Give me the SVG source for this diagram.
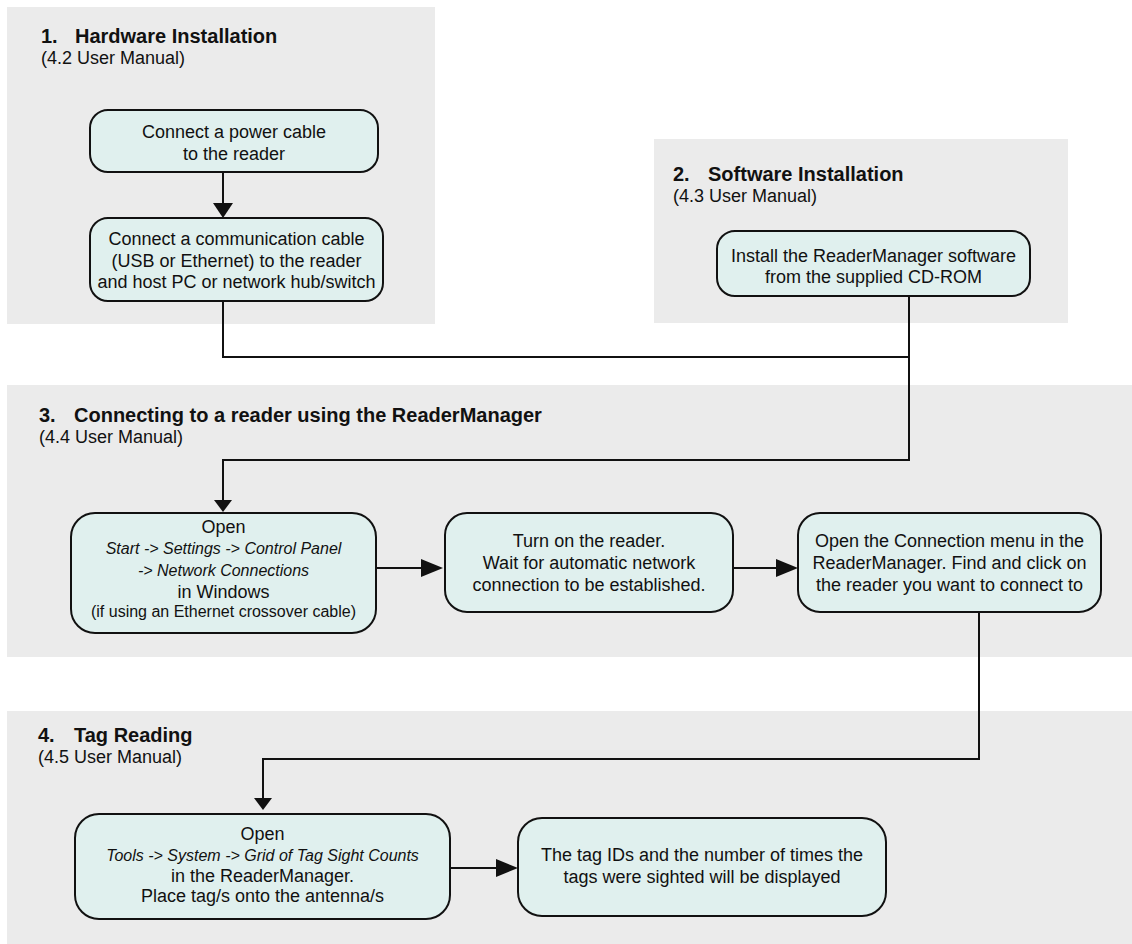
<svg xmlns="http://www.w3.org/2000/svg" width="1132" height="944" viewBox="0 0 1132 944">
  <style>
    .panel { fill: #EBEBEB; }
    .box { fill: #E0F0EE; stroke: #111; stroke-width: 2; }
    text { font-family: "Liberation Sans", Arial, Helvetica, sans-serif; fill: #111; }
    .t { font-size: 18px; text-anchor: middle; }
    .s { font-size: 16px; text-anchor: middle; }
    .i { font-size: 16px; font-style: italic; text-anchor: middle; }
    .h { font-size: 20px; font-weight: bold; }
    .sub { font-size: 18px; }
    .conn { fill: none; stroke: #111; stroke-width: 2; }
  </style>
  <defs>
    <marker id="ah" markerUnits="userSpaceOnUse" markerWidth="22" markerHeight="18" refX="0" refY="9" orient="auto" overflow="visible">
      <path d="M0,0 L22,9 L0,18 Z" fill="#111"/>
    </marker>
    <marker id="ad" markerUnits="userSpaceOnUse" markerWidth="15" markerHeight="20" refX="0" refY="10" orient="auto" overflow="visible">
      <path d="M0,0 L15,10 L0,20 Z" fill="#111"/>
    </marker>
    <marker id="as" markerUnits="userSpaceOnUse" markerWidth="12" markerHeight="18" refX="0" refY="9" orient="auto" overflow="visible">
      <path d="M0,0 L12,9 L0,18 Z" fill="#111"/>
    </marker>
  </defs>

  <!-- Panels -->
  <g id="panel1">
    <rect class="panel" x="7" y="7" width="428" height="317"/>
    <text class="h" x="41" y="43">1.</text>
    <text class="h" x="75" y="43">Hardware Installation</text>
    <text class="sub" x="41" y="64">(4.2 User Manual)</text>
  </g>
  <g id="panel2">
    <rect class="panel" x="654" y="139" width="414" height="184"/>
    <text class="h" x="673" y="181">2.</text>
    <text class="h" x="708" y="181">Software Installation</text>
    <text class="sub" x="673" y="202">(4.3 User Manual)</text>
  </g>
  <g id="panel3">
    <rect class="panel" x="7" y="385" width="1125" height="272"/>
    <text class="h" x="39" y="422">3.</text>
    <text class="h" x="74" y="422">Connecting to a reader using the ReaderManager</text>
    <text class="sub" x="39" y="443">(4.4 User Manual)</text>
  </g>
  <g id="panel4">
    <rect class="panel" x="7" y="711" width="1125" height="233"/>
    <text class="h" x="38" y="742">4.</text>
    <text class="h" x="74" y="742">Tag Reading</text>
    <text class="sub" x="38" y="763">(4.5 User Manual)</text>
  </g>

  <!-- Connectors -->
  <g id="connectors">
    <path class="conn" d="M223,172 V203" marker-end="url(#ad)"/>
    <path class="conn" d="M223,301 V357 H909"/>
    <path class="conn" d="M909,296 V460 H223 V500" marker-end="url(#as)"/>
    <path class="conn" d="M376,568 H421" marker-end="url(#ah)"/>
    <path class="conn" d="M733,568 H776" marker-end="url(#ah)"/>
    <path class="conn" d="M979,612 V759 H263 V798" marker-end="url(#as)"/>
    <path class="conn" d="M450,868 H496" marker-end="url(#ah)"/>
  </g>

  <!-- Nodes -->
  <g id="n1">
    <rect class="box" x="90" y="110" width="288" height="62" rx="18"/>
    <text class="t" x="234" y="138">Connect a power cable</text>
    <text class="t" x="234" y="160">to the reader</text>
  </g>
  <g id="n2">
    <rect class="box" x="90" y="218" width="293" height="83" rx="18"/>
    <text class="t" x="236.5" y="245">Connect a communication cable</text>
    <text class="t" x="236.5" y="267">(USB or Ethernet) to the reader</text>
    <text class="t" x="236.5" y="288">and host PC or network hub/switch</text>
  </g>
  <g id="n3">
    <rect class="box" x="717" y="231" width="313" height="65" rx="18"/>
    <text class="t" x="873.5" y="262">Install the ReaderManager software</text>
    <text class="t" x="873.5" y="283">from the supplied CD-ROM</text>
  </g>
  <g id="n4">
    <rect class="box" x="71" y="513" width="305" height="120" rx="24"/>
    <text class="t" x="223.5" y="533">Open</text>
    <text class="i" x="223.5" y="554">Start -&gt; Settings -&gt; Control Panel</text>
    <text class="i" x="223.5" y="576">-&gt; Network Connections</text>
    <text class="t" x="223.5" y="598">in Windows</text>
    <text class="s" x="223.5" y="617">(if using an Ethernet crossover cable)</text>
  </g>
  <g id="n5">
    <rect class="box" x="445" y="513" width="288" height="99" rx="22"/>
    <text class="t" x="589" y="547">Turn on the reader.</text>
    <text class="t" x="589" y="569">Wait for automatic network</text>
    <text class="t" x="589" y="591">connection to be established.</text>
  </g>
  <g id="n6">
    <rect class="box" x="798" y="513" width="303" height="99" rx="22"/>
    <text class="t" x="949.5" y="547">Open the Connection menu in the</text>
    <text class="t" x="949.5" y="569">ReaderManager. Find and click on</text>
    <text class="t" x="949.5" y="591">the reader you want to connect to</text>
  </g>
  <g id="n7">
    <rect class="box" x="75" y="814" width="375" height="105" rx="24"/>
    <text class="t" x="262.5" y="840">Open</text>
    <text class="i" x="262.5" y="861">Tools -&gt; System -&gt; Grid of Tag Sight Counts</text>
    <text class="t" x="262.5" y="882">in the ReaderManager.</text>
    <text class="t" x="262.5" y="902">Place tag/s onto the antenna/s</text>
  </g>
  <g id="n8">
    <rect class="box" x="518" y="818" width="368" height="98" rx="24"/>
    <text class="t" x="702" y="861">The tag IDs and the number of times the</text>
    <text class="t" x="702" y="883">tags were sighted will be displayed</text>
  </g>
</svg>
